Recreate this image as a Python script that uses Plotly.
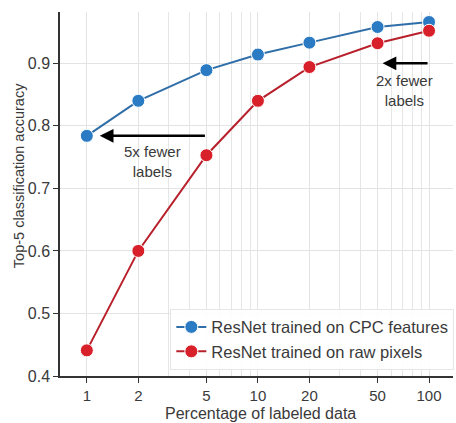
import math
import plotly.graph_objects as go

pct_labeled = [1, 2, 5, 10, 20, 50, 100]
cpc_acc = [0.784, 0.840, 0.889, 0.914, 0.933, 0.958, 0.966]
raw_acc = [0.441, 0.600, 0.753, 0.840, 0.894, 0.932, 0.952]
x_ticks = [1, 2, 5, 10, 20, 50, 100]
x_tick_text = ["1", "2", "5", "10", "20", "50", "100"]
x_minor_grid = [3, 4, 6, 7, 8, 9, 30, 40, 60, 70, 80, 90]
y_ticks = [0.4, 0.5, 0.6, 0.7, 0.8, 0.9]
y_tick_text = ["0.4", "0.5", "0.6", "0.7", "0.8", "0.9"]

FONT = "Liberation Sans, Arial, sans-serif"
TXT = "#3a3a3a"

fig = go.Figure()
fig.add_trace(go.Scatter(
    x=pct_labeled, y=cpc_acc, mode="lines+markers",
    name="ResNet trained on CPC features",
    line=dict(color="#2f6ea8", width=2),
    marker=dict(color="#2a7bc4", size=13, line=dict(color="white", width=1)),
))
fig.add_trace(go.Scatter(
    x=pct_labeled, y=raw_acc, mode="lines+markers",
    name="ResNet trained on raw pixels",
    line=dict(color="#b8202c", width=2),
    marker=dict(color="#d8202a", size=13, line=dict(color="white", width=1)),
))

arrow = dict(xref="x", yref="y", axref="x", ayref="y", showarrow=True,
             arrowhead=2, arrowsize=1.1, arrowwidth=2.5, arrowcolor="black", text="")
fig.add_annotation(x=math.log10(1.19), y=cpc_acc[0], ax=math.log10(5), ay=cpc_acc[0], **arrow)
fig.add_annotation(x=math.log10(53.5), y=0.9, ax=math.log10(100), ay=0.9, **arrow)

fig.add_annotation(x=math.log10(2.43), y=0.743, text="5x fewer<br>labels", showarrow=False,
                   xref="x", yref="y", font=dict(family=FONT, size=15, color=TXT))
fig.add_annotation(x=math.log10(71.5), y=0.857, text="2x fewer<br>labels", showarrow=False,
                   xref="x", yref="y", font=dict(family=FONT, size=15, color=TXT))

# axis titles placed as annotations to match their positions
fig.add_annotation(x=0, xref="paper", xshift=-41, y=0.549, yref="paper",
                   text="Top-5 classification accuracy", textangle=-90, showarrow=False,
                   xanchor="center", yanchor="middle",
                   font=dict(family=FONT, size=14.5, color=TXT))
fig.add_annotation(x=0.51, xref="paper", y=0, yref="paper", yshift=-37,
                   text="Percentage of labeled data", showarrow=False,
                   xanchor="center", yanchor="middle",
                   font=dict(family=FONT, size=16, color=TXT))

fig.update_layout(
    width=456, height=423,
    margin=dict(l=60, r=2, t=12, b=47),
    paper_bgcolor="white", plot_bgcolor="white",
    font=dict(family=FONT, size=15, color=TXT),
    showlegend=True,
    legend=dict(x=0.28, y=0.185, xanchor="left", yanchor="top",
                bgcolor="rgba(255,255,255,0.9)", bordercolor="#e6e6e6", borderwidth=1,
                font=dict(family=FONT, size=16.5, color=TXT),
                itemwidth=30, tracegroupgap=0),
)
fig.update_xaxes(
    type="log", range=[math.log10(0.697), 2.14], automargin=False,
    tickvals=x_ticks, ticktext=x_tick_text,
    ticks="outside", ticklen=5, tickwidth=1.2, tickcolor="#333",
    showline=True, linecolor="#333", linewidth=1.5,
    showgrid=True, gridcolor="#e3e3e3", gridwidth=1,
    minor=dict(tickvals=x_minor_grid, showgrid=True, gridcolor="#e6e6e6", gridwidth=1, ticks=""),
    zeroline=False,
    tickfont=dict(family=FONT, size=15, color=TXT),
)
fig.update_yaxes(
    range=[0.4, 0.982], automargin=False,
    tickvals=y_ticks, ticktext=y_tick_text,
    ticks="outside", ticklen=5, tickwidth=1.2, tickcolor="#333",
    showline=True, linecolor="#333", linewidth=1.5,
    showgrid=True, gridcolor="#e3e3e3", gridwidth=1,
    zeroline=False,
    tickfont=dict(family=FONT, size=16, color=TXT),
)

fig.write_html("out.html", config={"displayModeBar": False},
               post_script="document.body.style.margin='0';document.body.style.overflow='hidden';")
